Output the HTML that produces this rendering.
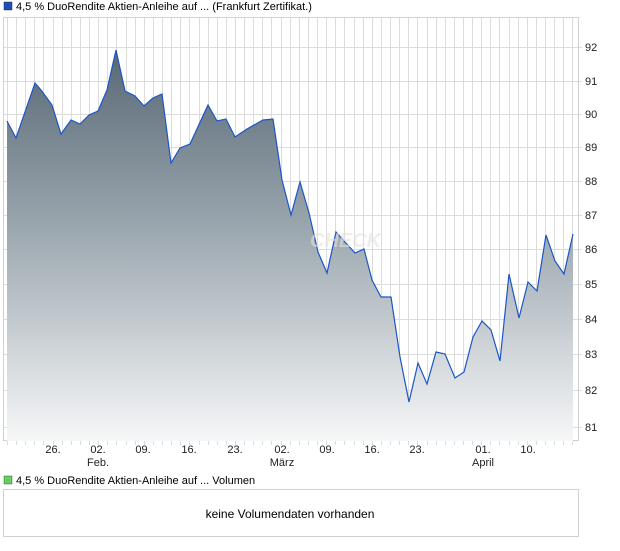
<!DOCTYPE html><html><head><style>body{margin:0;background:#fff;font-family:"Liberation Sans",sans-serif}</style></head><body>
<svg width="620" height="546" xmlns="http://www.w3.org/2000/svg" font-family="Liberation Sans, sans-serif" font-size="11">
<defs><linearGradient id="g" x1="0" y1="50" x2="0" y2="441" gradientUnits="userSpaceOnUse"><stop offset="0" stop-color="#586875"/><stop offset="0.45" stop-color="#9aa6ae"/><stop offset="1" stop-color="#f6f7f8"/></linearGradient></defs>
<rect x="4" y="2" width="8" height="8" fill="#1f4fb5" stroke="#234" stroke-width="0.5"/>
<text x="16" y="10">4,5 % DuoRendite Aktien-Anleihe auf ... (Frankfurt Zertifikat.)</text>
<g stroke="#dcdcdc" stroke-width="1" id="grid"></g>
<rect x="3.5" y="17.5" width="575" height="423" fill="none" stroke="#d0d0d0"/>
<path id="area" fill="url(#g)"/>
<path id="line" fill="none" stroke="#1b55c8" stroke-width="1.2"/>
<text x="310" y="247" font-size="20" font-weight="bold" font-style="italic" fill="#e6e2dc" opacity="0.6">CHECK</text>
<g id="ylab" font-size="11" fill="#222"></g>
<g font-size="11" fill="#222" text-anchor="middle">
<text x="53" y="453">26.</text><text x="98" y="453">02.</text><text x="143" y="453">09.</text><text x="189" y="453">16.</text><text x="235" y="453">23.</text><text x="282" y="453">02.</text><text x="327" y="453">09.</text><text x="372" y="453">16.</text><text x="417" y="453">23.</text><text x="483" y="453">01.</text><text x="528" y="453">10.</text>
<text x="98" y="466">Feb.</text><text x="282" y="466">März</text><text x="483" y="466">April</text>
</g>
<rect x="4" y="476" width="8" height="8" fill="#6c6" stroke="#363" stroke-width="0.5"/>
<text x="16" y="484">4,5 % DuoRendite Aktien-Anleihe auf ... Volumen</text>
<rect x="3.5" y="489.5" width="575" height="47" fill="none" stroke="#d0d0d0"/>
<text x="290" y="518" text-anchor="middle" font-size="12">keine Volumendaten vorhanden</text>
</svg>
<script>
var pts=[[7,121],[16,138],[35,83],[41,90],[52,105],[61,134],[71,120],[80,124],[89,115],[98,111],[107,90],[116,50],[125,91],[135,96],[144,106],[153,98],[162,94],[171,163],[180,148],[190,144],[208,105],[217,121],[226,119],[235,137],[247,129],[263,120],[273,119],[282,180],[291,215],[300,182],[309,213],[318,252],[327,273],[336,232],[345,242],[355,253],[364,249],[372,280],[381,297],[391,297],[400,357],[409,402],[418,363],[427,384],[436,352],[445,354],[455,378],[464,372],[473,337],[482,321],[491,330],[500,361],[509,274],[519,318],[528,282],[537,291],[546,235],[555,261],[564,274],[573,234]];
var d="M"+pts.map(p=>p.join(",")).join(" L");
document.getElementById("line").setAttribute("d",d);
document.getElementById("area").setAttribute("d",d+" L573,441 L7,441 Z");
var ns="http://www.w3.org/2000/svg",g=document.getElementById("grid"),yl=document.getElementById("ylab");
for(var x=7;x<578;x+=9.12){var l=document.createElementNS(ns,"line");l.setAttribute("x1",Math.round(x)+.5);l.setAttribute("x2",Math.round(x)+.5);l.setAttribute("y1",18);l.setAttribute("y2",445);g.appendChild(l);}
var ys=[[92,47],[91,81],[90,114],[89,147],[88,181],[87,215],[86,249],[85,284],[84,319],[83,354],[82,390],[81,427]];
ys.forEach(function(a){var l=document.createElementNS(ns,"line");l.setAttribute("x1",4);l.setAttribute("x2",582);l.setAttribute("y1",a[1]+.5);l.setAttribute("y2",a[1]+.5);g.appendChild(l);
var t=document.createElementNS(ns,"text");t.setAttribute("x",585);t.setAttribute("y",a[1]+4);t.textContent=a[0];yl.appendChild(t);});
</script>
</body></html>
